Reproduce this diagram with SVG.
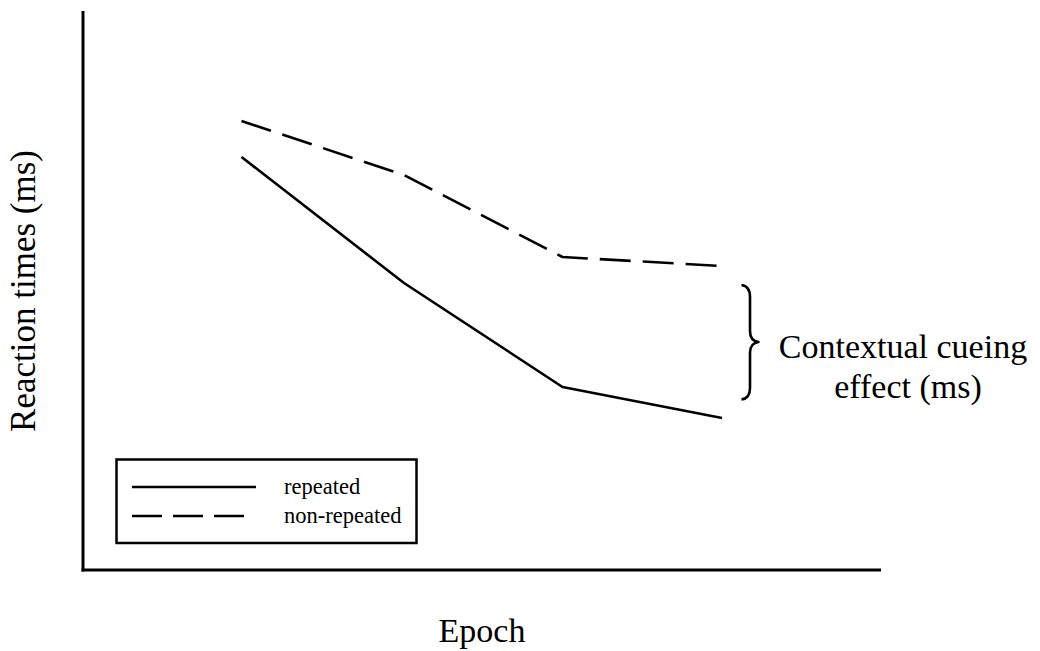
<svg xmlns="http://www.w3.org/2000/svg" width="1040" height="651" viewBox="0 0 1040 651">
  <style>
    .axis { stroke: #000; stroke-width: 3; fill: none; stroke-linecap: butt; }
    .series { stroke: #000; stroke-width: 2.6; fill: none; stroke-linejoin: round; }
    .dashed { stroke-dasharray: 31 12; }
    .lbl { font-family: "Liberation Serif", "Times New Roman", serif; fill: #000; }
  </style>
  <rect width="1040" height="651" fill="#fff"/>

  <!-- axes -->
  <g id="axes">
    <line class="axis" x1="83" y1="11" x2="83" y2="571.5"/>
    <line class="axis" x1="81.5" y1="570" x2="881" y2="570"/>
  </g>

  <!-- data series -->
  <g id="connectors">
    <polyline id="repeated" class="series" points="241.5,157 404,283 562.5,387 722,418"/>
    <polyline id="non-repeated" class="series dashed" points="241.5,121 404,175 562.5,257 722,266"/>
  </g>

  <!-- brace marking the cueing effect -->
  <g id="effect">
    <path class="series" stroke-width="2.2" d="M741.5,285 Q750,286 750,297 L750,331 Q750,341 758.5,342 Q750,343 750,353 L750,388 Q750,398.5 741.5,399.5"/>
    <text class="lbl" font-size="34" x="903" y="358" text-anchor="middle">Contextual cueing</text>
    <text class="lbl" font-size="34" x="908" y="398" text-anchor="middle">effect (ms)</text>
  </g>

  <!-- legend -->
  <g id="legend">
    <rect x="116.5" y="459.5" width="300" height="83.5" fill="none" stroke="#000" stroke-width="2.5"/>
    <line class="series" x1="132" y1="487" x2="256" y2="487"/>
    <line class="series" x1="132" y1="516" x2="244" y2="516" style="stroke-dasharray:30 11"/>
    <text class="lbl" font-size="22.5" x="284" y="494">repeated</text>
    <text class="lbl" font-size="22.5" x="284" y="523">non-repeated</text>
  </g>

  <!-- axis titles -->
  <g id="y-title">
    <text class="lbl" font-size="35" text-anchor="middle" transform="translate(35,291) rotate(-90)">Reaction times (ms)</text>
  </g>
  <g id="x-title">
    <text class="lbl" font-size="34" x="482" y="642" text-anchor="middle">Epoch</text>
  </g>
</svg>
